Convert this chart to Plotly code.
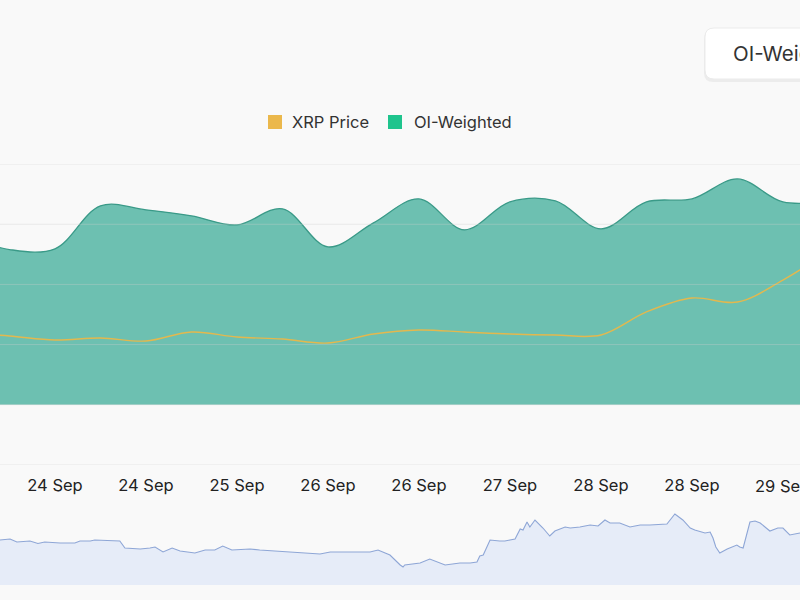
import pandas as pd
import plotly.graph_objects as go

# ---- main series (8-hourly) ----
main_times = [
    "2024-09-23 08:00", "2024-09-23 16:00", "2024-09-24 00:00", "2024-09-24 08:00",
    "2024-09-24 16:00", "2024-09-25 00:00", "2024-09-25 08:00", "2024-09-25 16:00",
    "2024-09-26 00:00", "2024-09-26 08:00", "2024-09-26 16:00", "2024-09-27 00:00",
    "2024-09-27 08:00", "2024-09-27 16:00", "2024-09-28 00:00", "2024-09-28 08:00",
    "2024-09-28 16:00", "2024-09-29 00:00", "2024-09-29 08:00", "2024-09-29 16:00",
]
oi_weighted = [
    0.01404, 0.01290, 0.01296, 0.01653, 0.01620, 0.01570, 0.01495, 0.01628,
    0.01312, 0.01512, 0.01711, 0.01454, 0.01686, 0.01694, 0.01462, 0.01686,
    0.01711, 0.01877, 0.01686, 0.01694,
]
xrp_price = [
    0.5921, 0.5900, 0.5872, 0.5886, 0.5865, 0.5928, 0.5893, 0.5879,
    0.5851, 0.5914, 0.5942, 0.5928, 0.5914, 0.5907, 0.5907, 0.6068,
    0.6165, 0.6137, 0.6290, 0.6490,
]

# ---- navigator series (hours after 24 Sep 00:00) ----
nav_hours = [
    -9.7, -7.9, -6.7, -4.4, -3.0, -1.8, 0.9, 3.5, 4.4, 6.2, 7.0, 9.7, 11.4, 12.3,
    15.0, 16.7, 17.6, 19.0, 20.6, 22.0, 24.6, 26.4, 28.1, 29.5, 31.1, 34.3, 36.0,
    41.3, 44.8, 46.6, 48.4, 51.9, 55.4, 56.8, 58.9, 60.7, 61.2, 61.5, 64.2, 65.9,
    68.6, 71.2, 73.0, 74.2, 74.7, 75.3, 76.5, 78.2, 79.1, 80.0, 80.9, 81.8, 82.3,
    83.0, 83.5, 84.4, 85.8, 87.0, 87.9, 89.7, 90.6, 92.3, 94.1, 95.5, 96.7, 97.6,
    99.3, 101.1, 102.9, 104.6, 106.4, 107.6, 109.0, 110.4, 111.7, 112.5, 114.3,
    115.2, 115.7, 116.2, 116.9, 118.2, 119.9, 120.4, 121.0, 122.2, 123.1, 124.0,
    125.7, 127.1, 128.0, 129.2, 131.0,
]
nav_values = [
    0.590, 0.592, 0.586, 0.588, 0.583, 0.586, 0.584, 0.584, 0.588, 0.588, 0.590,
    0.588, 0.588, 0.574, 0.572, 0.574, 0.576, 0.566, 0.574, 0.568, 0.564, 0.570,
    0.570, 0.578, 0.570, 0.572, 0.570, 0.566, 0.564, 0.562, 0.566, 0.566, 0.566,
    0.570, 0.560, 0.540, 0.536, 0.540, 0.544, 0.552, 0.540, 0.544, 0.544, 0.546,
    0.558, 0.560, 0.590, 0.588, 0.588, 0.590, 0.592, 0.612, 0.610, 0.626, 0.616,
    0.630, 0.614, 0.598, 0.608, 0.616, 0.614, 0.616, 0.620, 0.618, 0.630, 0.624,
    0.624, 0.616, 0.620, 0.620, 0.622, 0.622, 0.642, 0.630, 0.614, 0.610, 0.604,
    0.606, 0.594, 0.576, 0.564, 0.572, 0.580, 0.576, 0.574, 0.626, 0.628, 0.624,
    0.608, 0.614, 0.614, 0.600, 0.604, 0.608,
]

tick_dates = pd.date_range("2024-09-24 00:00", "2024-09-29 08:00", freq="16h")
y_ticks = [-0.005, 0.0, 0.005, 0.010, 0.015, 0.020]
legend_items = [("XRP Price", "#EBB84C"), ("OI-Weighted", "#1FC48D")]
button_label = "OI-Weighted"

BG = "#f9f9f9"
FONT = "Inter"
TICK_FONT = dict(family=FONT, size=16.5, color="#222222")

t_main = pd.to_datetime(main_times)
t_nav = pd.Timestamp("2024-09-24 00:00") + pd.to_timedelta(nav_hours, unit="h")
x_range = [pd.Timestamp("2024-09-23 14:20"), pd.Timestamp("2024-09-29 11:00")]

fig = go.Figure()
fig.add_trace(go.Scatter(
    x=t_main, y=oi_weighted, name="OI-Weighted", mode="lines",
    line=dict(color="#3a9a88", width=1.3, shape="spline", smoothing=1.0),
    fill="tozeroy", fillcolor="rgba(36,163,140,0.66)",
    xaxis="x", yaxis="y", showlegend=False, hoverinfo="skip"))
fig.add_trace(go.Scatter(
    x=t_main, y=xrp_price, name="XRP Price", mode="lines",
    line=dict(color="#e3b84e", width=1.4, shape="spline", smoothing=1.0),
    xaxis="x", yaxis="y2", showlegend=False, hoverinfo="skip"))
fig.add_trace(go.Scatter(
    x=t_nav, y=nav_values, mode="lines",
    line=dict(color="#8ea6d6", width=1.1),
    fill="tozeroy", fillcolor="#e6ecf8",
    xaxis="x2", yaxis="y3", showlegend=False, hoverinfo="skip"))

shapes = []
annotations = []
# horizontal grid lines drawn over the area
for v in y_ticks:
    shapes.append(dict(type="line", xref="paper", yref="y", x0=0, x1=1, y0=v, y1=v,
                       line=dict(color="rgba(205,205,205,0.35)", width=1), layer="above"))

# last tick label (partly past the right edge, like the reference)
annotations.append(dict(text=tick_dates[-1].strftime("%d %b"), xref="x", yref="paper",
                        x=tick_dates[-1], y=1 - 486 / 600, xanchor="center", yanchor="middle",
                        showarrow=False, font=TICK_FONT))

# legend
lx = [268, 388]
tx = [290, 412]
for (label, col), sx, txx in zip(legend_items, lx, tx):
    shapes.append(dict(type="rect", xref="paper", yref="paper",
                       x0=sx / 800, x1=(sx + 14) / 800,
                       y0=1 - 129 / 600, y1=1 - 115 / 600,
                       fillcolor=col, line=dict(width=0)))
    annotations.append(dict(text=label, xref="paper", yref="paper",
                            x=txx / 800, y=1 - 122 / 600, xanchor="left", yanchor="middle",
                            showarrow=False, font=dict(family=FONT, size=16.5, color="#333333")))

# button (rounded rect)
def rrect(x0, y0, x1, y1, r):
    X = lambda v: v / 800
    Y = lambda v: 1 - v / 600
    return (f"M {X(x0 + r)},{Y(y0)} L {X(x1)},{Y(y0)} L {X(x1)},{Y(y1)} "
            f"L {X(x0 + r)},{Y(y1)} Q {X(x0)},{Y(y1)} {X(x0)},{Y(y1 - r)} "
            f"L {X(x0)},{Y(y0 + r)} Q {X(x0)},{Y(y0)} {X(x0 + r)},{Y(y0)} Z")

shapes.append(dict(type="path", xref="paper", yref="paper", path=rrect(704, 30, 812, 82, 9),
                   fillcolor="rgba(0,0,0,0.05)", line=dict(width=0), layer="above"))
shapes.append(dict(type="path", xref="paper", yref="paper", path=rrect(705, 28, 812, 79, 9),
                   fillcolor="#ffffff", line=dict(color="#ebebeb", width=1), layer="above"))
annotations.append(dict(text=button_label, xref="paper", yref="paper",
                        x=731 / 800, y=1 - 53 / 600, xanchor="left", yanchor="middle",
                        showarrow=False, font=dict(family=FONT, size=20.5, color="#333333")))

fig.update_layout(
    width=800, height=600,
    margin=dict(l=0, r=0, t=0, b=0),
    paper_bgcolor=BG, plot_bgcolor=BG,
    showlegend=False,
    font=dict(family=FONT, color="#222222"),
    xaxis=dict(type="date", range=x_range, domain=[0, 1], anchor="y",
               tickvals=tick_dates[:-1], tickformat="%d %b",
               tickfont=TICK_FONT,
               ticks="", ticklabelstandoff=8, showgrid=False, zeroline=False,
               showline=False),
    yaxis=dict(range=[-0.00501, 0.02001], dtick=0.005, domain=[1 - 465 / 600, 1 - 164 / 600],
               showticklabels=False, showgrid=False, zeroline=False),
    yaxis2=dict(range=[0.50, 0.71], overlaying="y", side="right", showticklabels=False,
                showgrid=False, zeroline=False),
    xaxis2=dict(type="date", range=x_range, domain=[0, 1], anchor="y3", visible=False),
    yaxis3=dict(range=[0.50, 0.66], domain=[1 - 585 / 600, 1 - 505 / 600], visible=False),
    shapes=shapes,
    annotations=annotations,
)

fig.write_html("out.html")
